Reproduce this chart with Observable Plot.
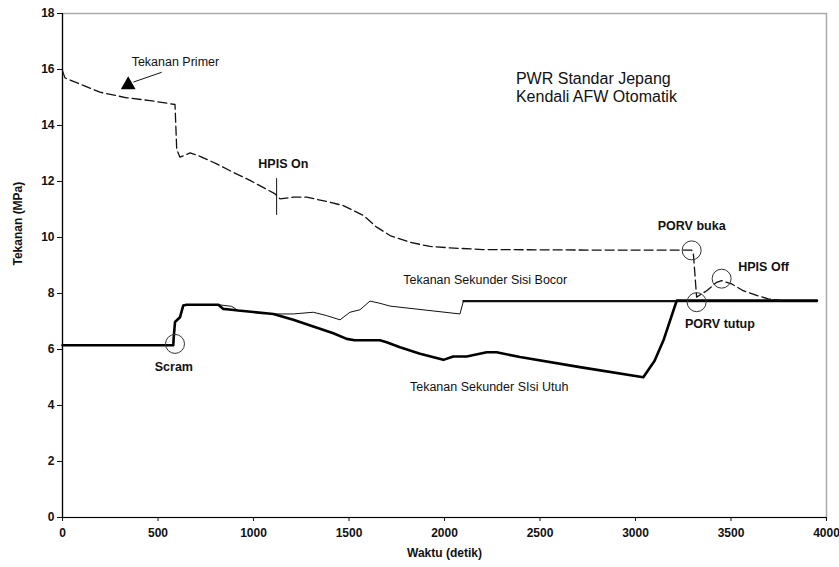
<!DOCTYPE html>
<html>
<head>
<meta charset="utf-8">
<script src="https://cdn.jsdelivr.net/npm/d3@7"></script>
<script src="https://cdn.jsdelivr.net/npm/@observablehq/plot@0.6"></script>
<style>
  html, body { margin: 0; padding: 0; background: #fff; }
</style>
</head>
<body>
<div id="chart"></div>
<script>
// ---- Data ----
const xTicks = [0, 500, 1000, 1500, 2000, 2500, 3000, 3500, 4000];
const yTicks = [0, 2, 4, 6, 8, 10, 12, 14, 16, 18];

// Tekanan Primer (dashed)
const tPrimer = [0, 13, 109, 196, 336, 458, 589, 598, 615, 668, 720, 807, 893, 982, 1113, 1121, 1139, 1208, 1279, 1401, 1470, 1575, 1645, 1715, 1819, 1924, 2029, 2200, 2500, 2800, 3100, 3294, 3303, 3303, 3320, 3373, 3425, 3451, 3504, 3564, 3634, 3695, 3760];
const pPrimer = [15.95, 15.70, 15.43, 15.19, 14.99, 14.89, 14.75, 13.15, 12.87, 13.02, 12.90, 12.63, 12.33, 12.04, 11.56, 11.50, 11.38, 11.44, 11.44, 11.26, 11.14, 10.79, 10.37, 10.07, 9.83, 9.68, 9.63, 9.57, 9.56, 9.55, 9.55, 9.55, 9.45, 9.42, 7.87, 8.10, 8.40, 8.46, 8.34, 8.10, 7.93, 7.81, 7.75];

// Tekanan Sekunder Sisi Bocor (thin)
const tBocor = [0, 580, 582, 589, 615, 632, 650, 816, 886, 920, 1104, 1208, 1313, 1383, 1453, 1505, 1558, 1610, 1662, 1715, 1767, 2081, 2099, 3950];
const pBocor = [6.15, 6.15, 6.40, 6.98, 7.15, 7.57, 7.60, 7.60, 7.54, 7.39, 7.27, 7.27, 7.33, 7.21, 7.06, 7.33, 7.42, 7.73, 7.65, 7.55, 7.51, 7.27, 7.73, 7.73];

// Tekanan Sekunder Sisi Utuh (thick)
const tUtuh = [0, 580, 582, 589, 615, 632, 650, 816, 842, 886, 920, 1104, 1208, 1313, 1418, 1488, 1530, 1662, 1697, 1767, 1872, 1994, 2046, 2116, 2221, 2273, 2395, 2709, 3041, 3100, 3146, 3216, 3950];
const pUtuh = [6.15, 6.15, 6.40, 6.98, 7.15, 7.57, 7.60, 7.60, 7.45, 7.42, 7.39, 7.27, 7.06, 6.82, 6.58, 6.38, 6.33, 6.33, 6.26, 6.08, 5.85, 5.63, 5.75, 5.75, 5.90, 5.90, 5.73, 5.37, 5.01, 5.60, 6.32, 7.75, 7.75];

// Annotations
const boldLabels = ["Scram", "HPIS On", "PORV buka"];
const boldLabelX = [583, 1156, 3294];
const boldLabelY = [5.37, 12.63, 10.40];

const boldLeftLabels = ["HPIS Off", "PORV tutup"];
const boldLeftX = [3538, 3259];
const boldLeftY = [8.94, 6.92];

const plainLabels = ["Tekanan Primer", "Tekanan Sekunder Sisi Bocor", "Tekanan Sekunder SIsi Utuh"];
const plainX = [362, 1784, 1819];
const plainY = [16.26, 8.49, 4.65];

const noteText = "PWR Standar Jepang\nKendali AFW Otomatik";
const noteX = 2374;
const noteY = 15.38;

const circleX = [589, 3294, 3451, 3320];
const circleY = [6.20, 9.54, 8.53, 7.69];

const hpisOnX = 1121, hpisOnY1 = 12.1, hpisOnY2 = 10.79;
const arrowFrom = [519, 15.90], arrowTo = [371, 15.55], arrowHead = [344, 15.45];

const xTitle = "Waktu (detik)";
const yTitle = "Tekanan (MPa)";

// ---- Build tables ----
const primer = tPrimer.map((t, i) => ({t, p: pPrimer[i]}));
const bocor = tBocor.map((t, i) => ({t, p: pBocor[i]}));
const bocorLate = bocor.filter(d => d.t >= 2099);
const utuh = tUtuh.map((t, i) => ({t, p: pUtuh[i]}));
const boldLab = boldLabels.map((s, i) => ({s, x: boldLabelX[i], y: boldLabelY[i]}));
const boldLeft = boldLeftLabels.map((s, i) => ({s, x: boldLeftX[i], y: boldLeftY[i]}));
const plain = plainLabels.map((s, i) => ({s, x: plainX[i], y: plainY[i]}));
const circles = circleX.map((x, i) => ({x, y: circleY[i]}));

const FONT = "'Liberation Sans', Arial, sans-serif";

const chart = Plot.plot({
  width: 839,
  height: 567,
  marginLeft: 62,
  marginRight: 13,
  marginTop: 13,
  marginBottom: 50,
  x: {domain: [0, 4000]},
  y: {domain: [0, 18]},
  style: {fontFamily: FONT, fontSize: "12px", fontWeight: "bold", color: "#111", background: "#fff"},
  marks: [
    Plot.frame({stroke: "#aaa", strokeWidth: 1.5}),
    Plot.axisX({ticks: xTicks, tickSize: 4, tickPadding: 7, label: null, tickFormat: d => String(d)}),
    Plot.axisY({ticks: yTicks, tickSize: 5, tickPadding: 3, label: null, tickFormat: d => String(d)}),
    Plot.ruleX([0], {stroke: "#000", strokeWidth: 1.2}),
    Plot.ruleY([0], {stroke: "#000", strokeWidth: 1.2}),
    // series
    Plot.line(bocor, {x: "t", y: "p", stroke: "#111", strokeWidth: 1}),
    Plot.line(bocorLate, {x: "t", y: "p", stroke: "#111", strokeWidth: 2.2}),
    Plot.line(utuh, {x: "t", y: "p", stroke: "#000", strokeWidth: 2.6, curve: "linear"}),
    Plot.line(primer, {x: "t", y: "p", stroke: "#111", strokeWidth: 1.3, strokeDasharray: "9,4"}),
    // annotation markers
    Plot.dot(circles, {x: "x", y: "y", r: 9.5, stroke: "#333", strokeWidth: 1, fill: "none"}),
    Plot.ruleX([hpisOnX], {y1: hpisOnY1, y2: hpisOnY2, stroke: "#111", strokeWidth: 1}),
    Plot.link([0], {x1: arrowFrom[0], y1: arrowFrom[1], x2: arrowTo[0], y2: arrowTo[1], stroke: "#111", strokeWidth: 1}),
    Plot.dot([0], {x: arrowHead[0], y: arrowHead[1], symbol: "triangle", r: 5.5, fill: "#000", stroke: "none"}),
    // texts
    Plot.text(boldLab, {x: "x", y: "y", text: "s", fontWeight: "bold", fontSize: 12.5, fill: "#111"}),
    Plot.text(boldLeft, {x: "x", y: "y", text: "s", textAnchor: "start", fontWeight: "bold", fontSize: 12.5, fill: "#111"}),
    Plot.text(plain, {x: "x", y: "y", text: "s", textAnchor: "start", fontWeight: "normal", fontSize: 12.5, fill: "#111"}),
    Plot.text([noteText], {x: noteX, y: noteY, text: d => d, textAnchor: "start", fontWeight: "normal", fontSize: 16, lineHeight: 1.15, fill: "#111"}),
    Plot.text([xTitle], {frameAnchor: "bottom", dy: 39, text: d => d, fontWeight: "bold", fontSize: 12, fill: "#111"}),
    Plot.text([yTitle], {frameAnchor: "left", dx: -44, rotate: -90, text: d => d, fontWeight: "bold", fontSize: 12, fill: "#111"})
  ]
});
document.getElementById("chart").appendChild(chart);
</script>
</body>
</html>
